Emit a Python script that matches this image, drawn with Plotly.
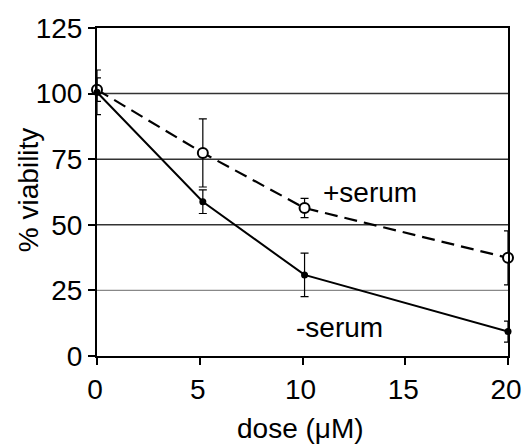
import plotly.graph_objects as go

dose = [0, 5.15, 10.1, 20]
minus_serum = [100.5, 58.8, 30.9, 9.3]
minus_err = [8.5, 4.5, 8.3, 4.0]
plus_serum = [101.5, 77.4, 56.4, 37.4]
plus_err = [4.5, 13.0, 3.7, 10.3]

y_ticks = [0, 25, 50, 75, 100, 125]
x_ticks = [0, 5, 10, 15, 20]
dark_grid = [50, 75, 100]
light_grid = [25]

FONT = "Liberation Sans, Arial, sans-serif"
FS = 28

fig = go.Figure()

fig.add_trace(go.Scatter(
    x=dose, y=plus_serum, mode="lines+markers", name="+serum",
    line=dict(color="black", width=2.2, dash="13px,7px"),
    marker=dict(symbol="circle", size=10, color="white", line=dict(color="black", width=2)),
    error_y=dict(type="data", array=plus_err, color="black", thickness=1.2, width=4),
    cliponaxis=False,
))
fig.add_trace(go.Scatter(
    x=dose, y=minus_serum, mode="lines+markers", name="-serum",
    line=dict(color="black", width=2),
    marker=dict(symbol="circle", size=7, color="black"),
    error_y=dict(type="data", array=minus_err, color="black", thickness=1.2, width=4),
    cliponaxis=False,
))

shapes = []
for v in dark_grid:
    shapes.append(dict(type="line", xref="paper", x0=0, x1=1, yref="y", y0=v, y1=v,
                       line=dict(color="#333333", width=1.5), layer="below"))
for v in light_grid:
    shapes.append(dict(type="line", xref="paper", x0=0, x1=1, yref="y", y0=v, y1=v,
                       line=dict(color="#888888", width=1.2), layer="below"))

fig.update_layout(
    width=522, height=445,
    margin=dict(l=97, r=14, t=28, b=89),
    paper_bgcolor="white", plot_bgcolor="white",
    showlegend=False,
    font=dict(family=FONT, size=FS, color="black"),
    shapes=shapes,
    annotations=[
        dict(x=13.3, y=62.5, xref="x", yref="y", text="+serum", showarrow=False,
             font=dict(family=FONT, size=FS, color="black")),
        dict(x=11.8, y=11, xref="x", yref="y", text="-serum", showarrow=False,
             font=dict(family=FONT, size=FS, color="black")),
        dict(x=-0.166, y=0.505, xref="paper", yref="paper", text="% viability", showarrow=False,
             xanchor="center", yanchor="middle",
             textangle=-90, font=dict(family=FONT, size=FS, color="black")),
        dict(x=0.494, y=-0.222, xref="paper", yref="paper", text="dose (\u03bcM)", showarrow=False,
             xanchor="center", yanchor="middle", font=dict(family=FONT, size=FS, color="black")),
    ],
    xaxis=dict(
        range=[0, 20], tickvals=x_ticks, ticktext=[str(t) for t in x_ticks],
        ticks="outside", ticklen=7, tickwidth=2, tickcolor="black",
        showline=True, linecolor="black", linewidth=2, mirror=True,
        showgrid=False, zeroline=False, automargin=False,
        ticklabeloverflow="allow", ticklabelshift=-2,
        tickfont=dict(family=FONT, size=FS),
    ),
    yaxis=dict(
        range=[0, 125], tickvals=y_ticks, ticktext=[str(t) for t in y_ticks],
        ticks="outside", ticklen=7, tickwidth=2, tickcolor="black",
        showline=True, linecolor="black", linewidth=2, mirror=True,
        showgrid=False, zeroline=False, automargin=False,
        ticklabeloverflow="allow",
        tickfont=dict(family=FONT, size=FS),
    ),
)

# remove the browser's default 8px body margin so the figure fills the window exactly
fig.write_html("out.html",
               config={"displayModeBar": False, "staticPlot": True},
               post_script="document.body.style.margin='0px';document.body.style.overflow='hidden';")
